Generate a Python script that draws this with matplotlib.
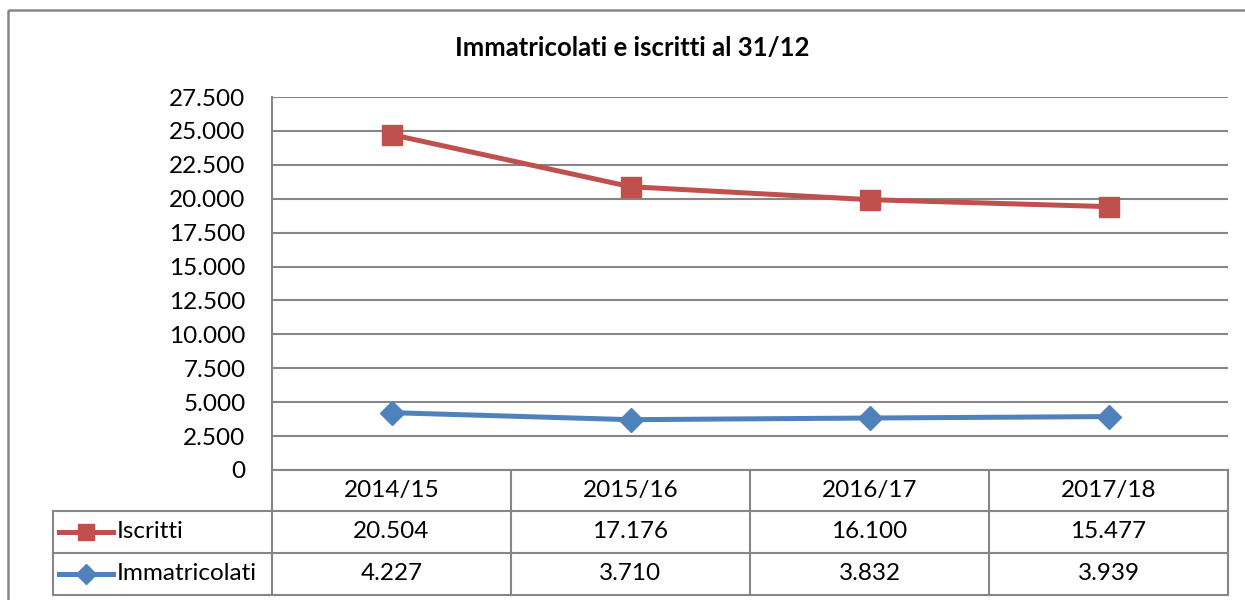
import matplotlib
matplotlib.use("Agg")
import matplotlib.pyplot as plt
from matplotlib.patches import Rectangle
from matplotlib.lines import Line2D

plt.rcParams['font.family'] = ['Lato', 'DejaVu Sans']

# data
anni = ['2014/15', '2015/16', '2016/17', '2017/18']
iscritti = [20504, 17176, 16100, 15477]
immatricolati = [4227, 3710, 3832, 3939]
yticks = [0, 2500, 5000, 7500, 10000, 12500, 15000, 17500, 20000, 22500, 25000, 27500]


def fmt(v):
    return f"{v:,}".replace(",", ".")


W, H = 1245, 600
grey = '#868686'
red = '#C0504D'
blue = '#4F81BD'
fs = 17.5

fig = plt.figure(figsize=(W / 100, H / 100), dpi=100)

# plot area in pixels
left, right, top, bottom = 272, 1228, 97, 470
ax = fig.add_axes([left / W, 1 - bottom / H, (right - left) / W, (bottom - top) / H])

# stacked lines (as in Excel "stacked line")
x = range(len(anni))
stacked = [a + b for a, b in zip(iscritti, immatricolati)]
ax.plot(x, stacked, color=red, lw=3.6, marker='s', ms=14, mec=red, zorder=4)
ax.plot(x, immatricolati, color=blue, lw=3.6, marker='D', ms=12, mec=blue, zorder=4)

ax.set_xlim(-0.5, len(anni) - 0.5)
ax.set_ylim(0, 27500)
ax.set_yticks(yticks)
ax.set_yticklabels([fmt(v) for v in yticks], fontsize=fs)
ax.tick_params(axis='y', length=0, pad=19)
ax.set_xticks([])
ax.grid(axis='y', color=grey, lw=1.5)
ax.set_axisbelow(True)
for s in ['top', 'right', 'bottom']:
    ax.spines[s].set_visible(False)
ax.spines['left'].set_color(grey)
ax.spines['left'].set_linewidth(1.5)

# overlay in pixel coords for table, title and border
ov = fig.add_axes([0, 0, 1, 1], zorder=-1)
ov.set_xlim(0, W)
ov.set_ylim(H, 0)
ov.axis('off')
ov2 = fig.add_axes([0, 0, 1, 1], zorder=5)
ov2.set_xlim(0, W)
ov2.set_ylim(H, 0)
ov2.axis('off')
ov2.patch.set_alpha(0)

ov.add_patch(Rectangle((8, 10), W, H, fill=False, ec=grey, lw=1.8))
ov2.text(632, 48, 'Immatricolati e iscritti al 31/12', ha='center', va='center',
         fontsize=18.5, fontweight='bold')

# data table
leg_left = 53
col_w = (right - left) / len(anni)
rows = [bottom, 511, 553, 595]
lk = dict(color=grey, lw=1.5)
ov2.plot([left, right], [rows[0], rows[0]], **lk)
for r in rows[1:]:
    ov2.plot([leg_left, right], [r, r], **lk)
ov2.plot([leg_left, leg_left], [rows[1], rows[3]], **lk)
for i in range(len(anni) + 1):
    xc = left + i * col_w
    ov2.plot([xc, xc], [rows[0], rows[3]], **lk)

for i, a in enumerate(anni):
    xc = left + (i + 0.5) * col_w
    ov2.text(xc, (rows[0] + rows[1]) / 2, a, ha='center', va='center', fontsize=fs)
    ov2.text(xc, (rows[1] + rows[2]) / 2, fmt(iscritti[i]), ha='center', va='center', fontsize=fs)
    ov2.text(xc, (rows[2] + rows[3]) / 2, fmt(immatricolati[i]), ha='center', va='center', fontsize=fs)

for (lab, col, mk, ms), r0, r1 in zip(
        [('Iscritti', red, 's', 11), ('Immatricolati', blue, 'D', 10)],
        rows[1:3], rows[2:4]):
    yc = (r0 + r1) / 2
    ov2.add_line(Line2D([59, 113], [yc, yc], color=col, lw=3.6))
    ov2.add_line(Line2D([86], [yc], marker=mk, ms=ms, color=col, mec=col))
    ov2.text(117, yc, lab, ha='left', va='center', fontsize=fs)

fig.savefig('out.png', dpi=100)
